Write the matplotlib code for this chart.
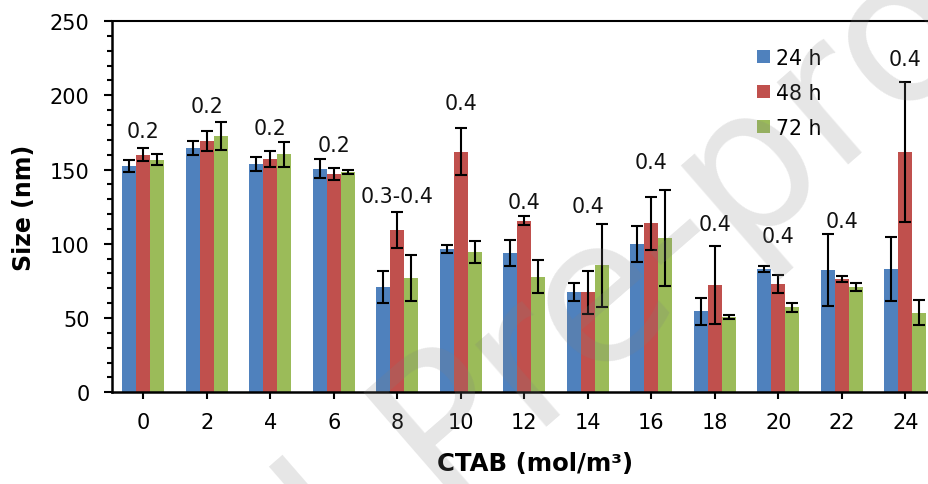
import numpy as np
import matplotlib
matplotlib.use("Agg")
import matplotlib.pyplot as plt
from matplotlib.patches import Patch

plt.rcParams['font.family'] = ['DejaVu Sans']

# CTAB concentration (mol/m3)
ctab = ['0', '2', '4', '6', '8', '10', '12', '14', '16', '18', '20', '22', '24']

# mean particle size (nm) after each ageing time
size_24h = [152.4, 164.5, 153.7, 150.6, 71.1, 96.5, 93.8, 67.3, 99.9, 54.5, 83.2, 82.4, 83.0]
size_48h = [160.0, 169.2, 157.1, 147.0, 109.1, 162.0, 115.4, 67.3, 113.8, 72.3, 72.7, 76.3, 162.0]
size_72h = [156.6, 172.6, 160.3, 148.5, 76.8, 94.5, 77.9, 85.5, 103.9, 50.9, 57.4, 70.9, 53.6]

# standard deviations (nm)
err_24h = [4.0, 4.8, 4.8, 6.3, 10.9, 2.5, 8.5, 6.0, 12.2, 9.1, 2.0, 24.3, 21.4]
err_48h = [4.6, 6.5, 5.3, 4.0, 12.0, 15.8, 3.0, 14.4, 17.8, 26.4, 6.0, 1.8, 47.0]
err_72h = [3.7, 9.4, 8.3, 1.2, 15.4, 7.2, 11.3, 28.0, 32.2, 1.3, 3.0, 3.0, 8.4]

# polydispersity index annotated over each group
pdi_labels = ['0.2', '0.2', '0.2', '0.2', '0.3-0.4', '0.4', '0.4', '0.4', '0.4', '0.4', '0.4', '0.4', '0.4']
pdi_label_y = [176.2, 192.6, 177.8, 166.5, 132.4, 194.8, 127.9, 125.7, 155.3, 113.3, 105.3, 115.6, 224.4]

series = [('24 h', size_24h, err_24h, '#4F81BD'),
          ('48 h', size_48h, err_48h, '#C0504D'),
          ('72 h', size_72h, err_72h, '#9BBB59')]

W, H = 929, 485
fig = plt.figure(figsize=(W / 100, H / 100), dpi=100)
ax = fig.add_axes([111.7 / W, 91.7 / H, (937 - 111.7) / W, (393.3 - 22) / H])

x = np.arange(len(ctab))
bw = 0.22
for i, (name, vals, errs, col) in enumerate(series):
    pos = x + (i - 1) * bw
    ax.bar(pos, vals, width=bw, color=col, edgecolor='none', zorder=2)
    ax.errorbar(pos, vals, yerr=errs, fmt='none', ecolor='black',
                elinewidth=1.5, capsize=4.6, capthick=1.5, zorder=3)

for xi, lab, ly in zip(x, pdi_labels, pdi_label_y):
    ax.text(xi, ly, lab, ha='center', va='center', fontsize=14.8, color='#111111', zorder=4)

ax.set_xlim(-0.5, len(ctab) - 0.5)
ax.set_ylim(0, 250)
ax.set_xticks(x)
ax.set_xticklabels(ctab)
ax.set_yticks(np.arange(0, 251, 50))
ax.set_yticks(np.arange(0, 251, 10), minor=True)
ax.tick_params(axis='both', labelsize=15, colors='black', width=1.5, direction='out')
ax.tick_params(axis='y', which='major', length=6, pad=10)
ax.tick_params(axis='y', which='minor', length=3.6, width=1.5)
ax.tick_params(axis='x', which='major', length=5, pad=9)

for side in ['left', 'bottom']:
    ax.spines[side].set_linewidth(1.8)
ax.spines['top'].set_linewidth(1.5)
ax.spines['right'].set_visible(False)

ax.set_xlabel('CTAB (mol/m³)', fontsize=17.6, fontweight='bold')
ax.xaxis.set_label_coords(0.513, -0.158)
ax.set_ylabel('Size (nm)', fontsize=17, fontweight='bold', labelpad=10)

handles = [Patch(facecolor=c, edgecolor='none', label=n) for n, _, _, c in series]
leg = ax.legend(handles=handles, loc='upper left', bbox_to_anchor=(757 / W, 1 - 49 / H),
                bbox_transform=fig.transFigure, frameon=False, fontsize=14.8,
                handlelength=0.62, handleheight=0.62, handletextpad=0.3,
                labelspacing=0.72, borderpad=0, borderaxespad=0)

# journal watermark
fig.text(470 / W, 1 - 430 / H, 'Journal Pre-proof', fontsize=144, color='#808080', alpha=0.2,
         rotation=41, ha='center', va='center', rotation_mode='anchor', zorder=10)

fig.savefig('out.png', dpi=100)
